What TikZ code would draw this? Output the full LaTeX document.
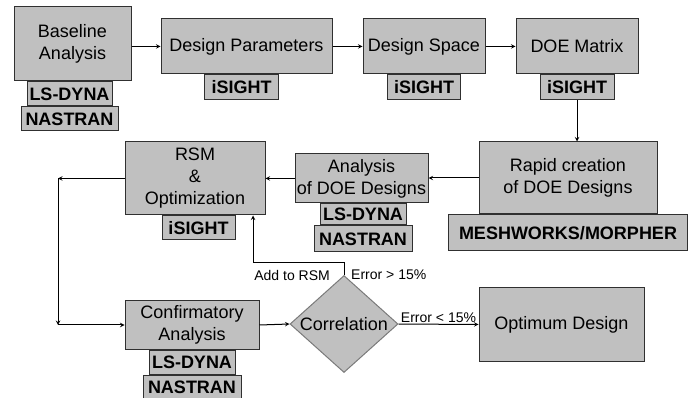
\documentclass[tikz,border=0pt]{standalone}
\usepackage{fontspec}
\setmainfont{Liberation Sans}
\usetikzlibrary{shapes.geometric, arrows, positioning, calc}
\definecolor{grisbox}{HTML}{C0C0C0}
\definecolor{bordeosc}{HTML}{303030}
\definecolor{bordediam}{HTML}{7A7A7A}
\tikzset{
  etapa/.style={rectangle, draw=bordeosc, fill=grisbox, line width=1pt, inner sep=0pt,
                text centered, align=center, font=\fontsize{18}{22}\selectfont},
  herram/.style={rectangle, draw=bordeosc, fill=grisbox, line width=1pt, inner sep=0pt,
                 text centered, font=\fontsize{18}{22}\selectfont\bfseries},
  decision/.style={diamond, draw=bordediam, fill=grisbox, line width=1pt, inner sep=0pt,
                   shape aspect=1.1, minimum width=108pt, minimum height=97pt,
                   font=\fontsize{18}{22}\selectfont},
  etiq/.style={font=\fontsize{14}{16}\selectfont, inner sep=1pt},
  arrow/.style={line width=1pt,->,>=stealth,color=black}
}

\begin{document}
\begin{tikzpicture}[x=1pt, y=-1pt]
  \useasboundingbox (0,0) rectangle (694,398);
  % fila superior
  \node (base) [etapa, minimum width=117pt, minimum height=74pt] at (72.5,44) {Baseline\\Analysis};
  \node (baseLS) [herram, minimum width=85pt, minimum height=24pt, below=0pt of base, xshift=-3pt] {LS-DYNA};
  \node (baseNA) [herram, minimum width=97pt, minimum height=24pt, below=0pt of baseLS] {NASTRAN};
  \node (par) [etapa, minimum width=171pt, minimum height=55pt] at (246.5,46.5) {Design Parameters};
  \node (parIS) [herram, minimum width=74pt, minimum height=25pt, below=0pt of par, xshift=-5pt] {iSIGHT};
  \node (space) [etapa, minimum width=122pt, minimum height=55pt] at (424,46.5) {Design Space};
  \node (spaceIS) [herram, minimum width=73pt, minimum height=25pt, below=0pt of space] {iSIGHT};
  \node (doe) [etapa, minimum width=122pt, minimum height=55pt] at (577,46.5) {DOE Matrix};
  \node (doeIS) [herram, minimum width=74pt, minimum height=25pt, below=0pt of doe] {iSIGHT};
  % fila media
  \node (rapid) [etapa, minimum width=178pt, minimum height=72pt] at (568,178) {Rapid creation\\of DOE Designs};
  \node (rapidMW) [herram, minimum width=239pt, minimum height=36pt, below=0pt of rapid] {MESHWORKS/MORPHER};
  \node (anal) [etapa, minimum width=133pt, minimum height=49pt] at (361.5,178.5) {Analysis\\of DOE Designs};
  \node (analLS) [herram, minimum width=86pt, minimum height=21pt, below=0pt of anal, xshift=1.5pt] {LS-DYNA};
  \node (analNA) [herram, minimum width=98pt, minimum height=26pt, below=0pt of analLS] {NASTRAN};
  \node (rsm) [etapa, minimum width=140pt, minimum height=73pt] at (195,178.5) {RSM\\\&\\Optimization};
  \node (rsmIS) [herram, minimum width=73pt, minimum height=24pt, below=0pt of rsm, xshift=3.5pt] {iSIGHT};
  % fila inferior
  \node (conf) [etapa, minimum width=134pt, minimum height=48pt] at (192,325) {Confirmatory\\Analysis};
  \node (confLS) [herram, minimum width=86pt, minimum height=24pt, below=0pt of conf] {LS-DYNA};
  \node (confNA) [herram, minimum width=98pt, minimum height=25pt, below=0pt of confLS] {NASTRAN};
  \node (corr) [decision] at (344,324) {Correlation};
  \node (opt) [etapa, minimum width=165pt, minimum height=73pt] at (561.5,324.5) {Optimum Design};
  % conectores
  \draw [arrow] (base.east |- par.west) -- (par.west);
  \draw [arrow] (par) -- (space);
  \draw [arrow] (space) -- (doe);
  \draw [arrow] (doeIS.south) -- (doeIS.south |- rapid.north);
  \draw [arrow] (rapid.west) -- (rapid.west -| anal.east);
  \draw [arrow] (anal.west) -- (anal.west -| rsm.east);
  \coordinate (lazoA) at (58,178.5);
  \coordinate (lazoB) at (58,325);
  \draw [arrow] (rsm.west) -- (lazoA);
  \draw [arrow] (lazoA) -- (lazoB);
  \draw [arrow] (lazoB) -- (conf.west);
  \draw [arrow] (conf.east) -- (corr.west);
  \draw [arrow] (corr.east) -- node [etiq, above] (lblmenor) {Error < 15\%} (opt.west);
  \coordinate (retorno) at (253,263);
  \draw [arrow] (corr.north) |- (retorno) -- (retorno |- rsm.south);
  \node (lbladd) [etiq, anchor=east] at (331,275) {Add to RSM};
  \node (lblmayor) [etiq, anchor=west] at (350,275) {Error > 15\%};
\end{tikzpicture}
\end{document}
